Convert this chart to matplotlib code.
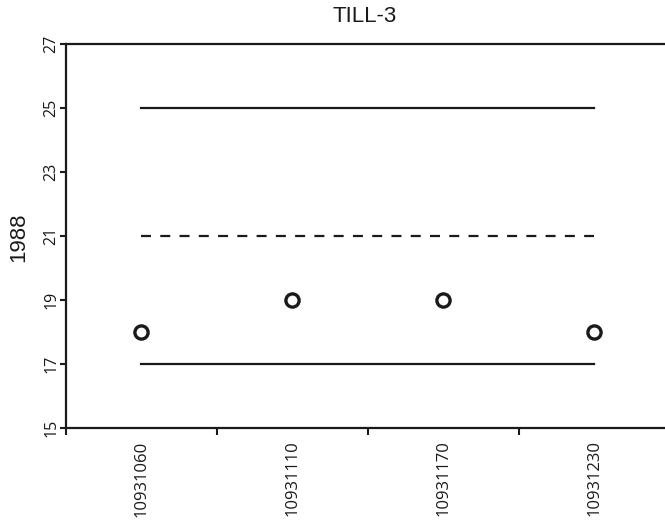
import matplotlib
matplotlib.use("Agg")
import matplotlib.pyplot as plt
import numpy as np

categories = ["10931060", "10931110", "10931170", "10931230"]
values = [18, 19, 19, 18]
upper_limit = 25
mean_line = 21
lower_limit = 17
yticks = [15, 17, 19, 21, 23, 25, 27]

fig = plt.figure(figsize=(6.65, 5.25), dpi=100)
ax = fig.add_axes([66/665, 1-428/525, (669.5-66)/665, (428-44)/525])

x = np.arange(len(categories))
ax.plot([x[0], x[-1]], [upper_limit]*2, color="#1a1a1a", lw=1.6)
ax.plot([x[0], x[-1]], [mean_line]*2, color="#1a1a1a", lw=1.6, ls=(0, (4.5, 4.17)))
ax.plot([x[0], x[-1]], [lower_limit]*2, color="#1a1a1a", lw=1.6)
ax.plot(x, values, ls="none", marker="o", ms=9.5, mfc="white", mec="#1a1a1a", mew=2.4)

ax.set_xlim(-0.5, len(categories)-0.5)
ax.set_ylim(15, 27)
ax.set_yticks(yticks)
ax.set_yticklabels([str(t) for t in yticks], rotation=90, va="center",
                   fontsize=11.5, family="Open Sans", color="#1a1a1a")
ax.set_xticks(x)
ax.set_xticklabels(categories, rotation=90, fontsize=12, family="Open Sans", color="#1a1a1a")
ax.tick_params(axis="x", which="major", length=0, pad=9)
ax.set_xticks(np.arange(-0.5, len(categories)), minor=True)
ax.tick_params(axis="x", which="minor", length=5, width=1.5, direction="out", color="#1a1a1a")
ax.tick_params(axis="y", length=4, width=1.5, direction="out", color="#1a1a1a", pad=1)

for s in ["left", "bottom", "top"]:
    ax.spines[s].set_linewidth(1.6)
    ax.spines[s].set_color("#1a1a1a")
ax.spines["right"].set_visible(False)

fig.text(19/665, 1-237/525, "1988", ha="center", va="center", rotation=90,
         fontsize=16, family="Liberation Sans", color="#1a1a1a")
fig.text(365/665, 1-16/525, "TILL-3", ha="center", va="center", fontsize=16,
         family="Liberation Sans", color="#1a1a1a")

fig.savefig("out.png", dpi=100)
